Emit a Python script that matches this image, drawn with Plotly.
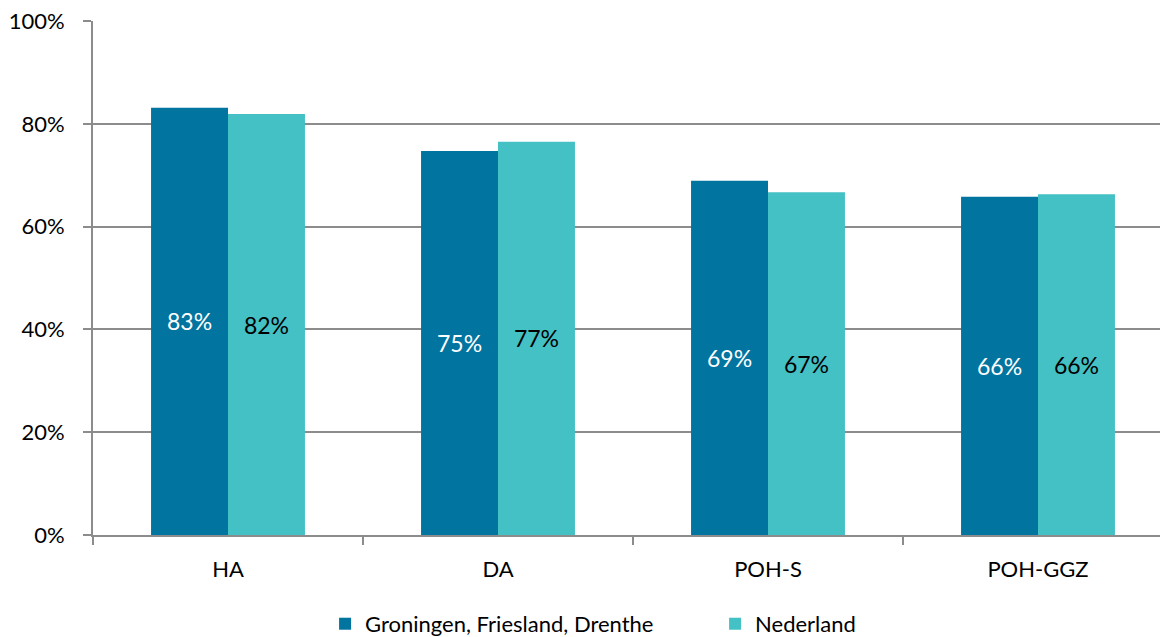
import plotly.graph_objects as go

categories = ["HA", "DA", "POH-S", "POH-GGZ"]
gfd_values = [83.1, 74.7, 68.9, 65.8]
nl_values = [81.9, 76.5, 66.7, 66.3]
series_names = ["Groningen, Friesland, Drenthe", "Nederland"]
y_ticks = [0, 20, 40, 60, 80, 100]
y_tick_labels = ["0%", "20%", "40%", "60%", "80%", "100%"]

FONT = "Lato"
fig = go.Figure()
fig.add_trace(go.Bar(
    x=categories, y=gfd_values, name=series_names[0],
    marker=dict(color="#0174A0", line=dict(width=0)),
    texttemplate="%{y:.0f}%", textposition="inside", insidetextanchor="middle",
    textfont=dict(color="white", size=23, family=FONT),
))
fig.add_trace(go.Bar(
    x=categories, y=nl_values, name=series_names[1],
    marker=dict(color="#43C1C5", line=dict(width=0)),
    texttemplate="%{y:.0f}%", textposition="inside", insidetextanchor="middle",
    textfont=dict(color="black", size=23, family=FONT),
))

fig.update_layout(
    width=1173, height=637,
    margin=dict(l=93, r=0, t=21, b=102, autoexpand=False),
    paper_bgcolor="white", plot_bgcolor="white",
    barmode="group", bargap=0.43, bargroupgap=0,
    font=dict(family=FONT, size=22, color="black"),
    showlegend=True,
    legend=dict(orientation="h", x=0.576, xanchor="center", y=-0.173, yanchor="middle",
                font=dict(size=22, family=FONT), traceorder="normal",
                entrywidth=345, entrywidthmode="pixels"),
)
fig.update_xaxes(
    showline=True, linecolor="#8c8c8c", linewidth=2,
    ticks="outside", tickson="boundaries", ticklen=8, tickcolor="#8c8c8c", tickwidth=2,
    tickfont=dict(size=22, family=FONT), showgrid=False, automargin=False,
    ticklabelstandoff=14,
)
fig.update_yaxes(
    range=[0, 100], tickvals=y_ticks, ticktext=y_tick_labels,
    showline=True, linecolor="#8c8c8c", linewidth=2,
    ticks="outside", ticklen=8, tickcolor="#8c8c8c", tickwidth=2,
    showgrid=True, gridcolor="#8c8c8c", gridwidth=2,
    zeroline=False, tickfont=dict(size=22, family=FONT),
    ticklabelstandoff=14, automargin=False,
)
fig.write_html("out.html", config=dict(displayModeBar=False),
               post_script="document.body.style.margin='0';document.body.style.overflow='hidden';")
